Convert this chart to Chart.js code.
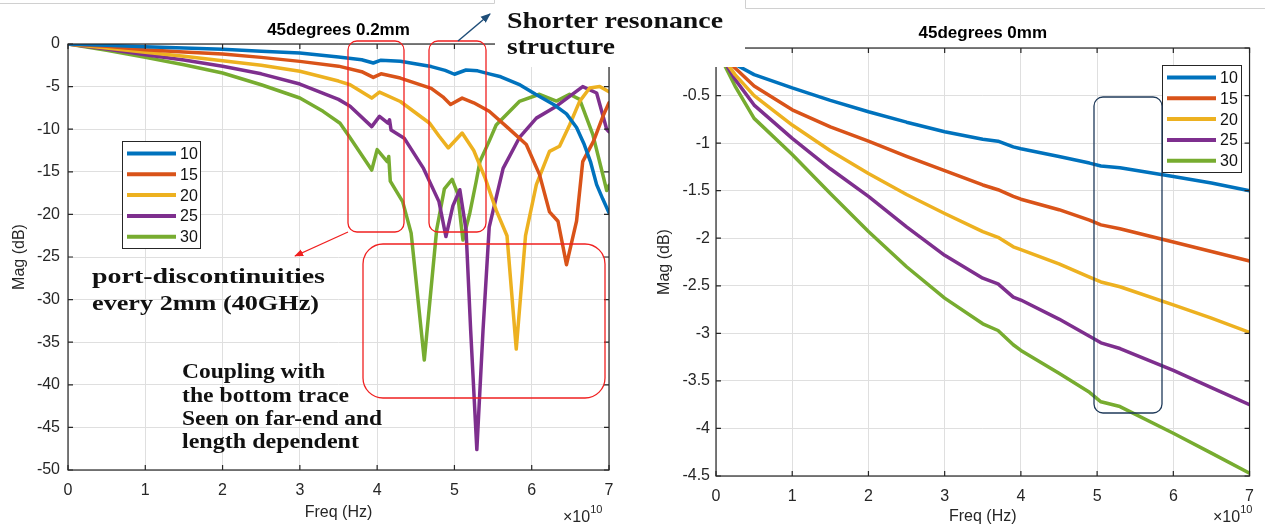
<!DOCTYPE html>
<html>
<head>
<meta charset="utf-8">
<script src="https://cdn.jsdelivr.net/npm/chart.js@4"></script>
<style>
  html, body { margin: 0; padding: 0; background: #fff; }
  body { width: 1265px; height: 529px; position: relative; overflow: hidden; }
  .box { position: absolute; top: 0; height: 529px; }
  #leftBox { left: 0; width: 630px; }
  #rightBox { left: 630px; width: 635px; }
  #notes { position: absolute; left: 0; top: 0; pointer-events: none; }
</style>
</head>
<body>
<div class="box" id="leftBox"><canvas id="leftChart"></canvas></div>
<div class="box" id="rightBox"><canvas id="rightChart"></canvas></div>

<svg id="notes" width="1265" height="529" xmlns="http://www.w3.org/2000/svg">
  <defs>
    <marker id="headRed" viewBox="0 0 10 10" refX="9" refY="5" markerWidth="9" markerHeight="9" markerUnits="userSpaceOnUse" orient="auto">
      <path d="M0 1L10 5L0 9z" fill="#f02020"/>
    </marker>
    <marker id="headNavy" viewBox="0 0 10 10" refX="9" refY="5" markerWidth="10" markerHeight="10" markerUnits="userSpaceOnUse" orient="auto">
      <path d="M0 1L10 5L0 9z" fill="#1f4e79"/>
    </marker>
  </defs>
  <!-- pasted text box covering the plot corners -->
  <rect x="495" y="0" width="250" height="67" fill="#fff"/>
  <path d="M0 3.5H494.5V0" stroke="#d0d0d0" fill="none"/>
  <path d="M745.5 0V8.5H1265" stroke="#d0d0d0" fill="none"/>

  <rect x="348" y="41" width="56" height="191" rx="9" fill="none" stroke="#f02020" stroke-width="1.3"/>
  <rect x="429" y="41" width="57" height="191" rx="9" fill="none" stroke="#f02020" stroke-width="1.3"/>
  <rect x="363" y="244" width="242" height="154" rx="20" fill="none" stroke="#f02020" stroke-width="1.3"/>
  <line x1="348" y1="232" x2="295" y2="256" stroke="#f02020" stroke-width="1.3" marker-end="url(#headRed)"/>
  <line x1="458" y1="41" x2="490" y2="14" stroke="#1f4e79" stroke-width="1.5" marker-end="url(#headNavy)"/>
  <rect x="1094" y="97" width="68" height="316" rx="9" fill="none" stroke="#1f3a5a" stroke-width="1.3"/>

  <g font-family="'Liberation Serif', serif" font-weight="bold" fill="#111">
    <text x="507" y="28" font-size="23" textLength="216" lengthAdjust="spacingAndGlyphs">Shorter resonance</text>
    <text x="507" y="54" font-size="23" textLength="108" lengthAdjust="spacingAndGlyphs">structure</text>
    <text x="92" y="283" font-size="21" textLength="233" lengthAdjust="spacingAndGlyphs">port-discontinuities</text>
    <text x="92" y="310" font-size="21" textLength="227" lengthAdjust="spacingAndGlyphs">every 2mm (40GHz)</text>
    <text x="182" y="378" font-size="20" textLength="143" lengthAdjust="spacingAndGlyphs">Coupling with</text>
    <text x="182" y="402" font-size="20" textLength="167" lengthAdjust="spacingAndGlyphs">the bottom trace</text>
    <text x="182" y="425" font-size="20" textLength="200" lengthAdjust="spacingAndGlyphs">Seen on far-end and</text>
    <text x="182" y="448" font-size="20" textLength="177" lengthAdjust="spacingAndGlyphs">length dependent</text>
  </g>
  <g font-family="'Liberation Sans', Arial, sans-serif" fill="#262626">
    <text x="563" y="522" font-size="16">×10<tspan dy="-9" font-size="11">10</tspan></text>
    <text x="1213" y="522" font-size="16">×10<tspan dy="-9" font-size="11">10</tspan></text>
  </g>
</svg>

<script>
// series names and colours (MATLAB default order)
const SERIES_LABELS = ['10', '15', '20', '25', '30'];
const COLORS = ['#0072BD', '#D95319', '#EDB120', '#7E2F8E', '#77AC30'];

// tick values
const X_TICKS = [0, 1, 2, 3, 4, 5, 6, 7];
const Y_TICKS_LEFT = [-50, -45, -40, -35, -30, -25, -20, -15, -10, -5, 0];
const Y_TICKS_RIGHT = [-4.5, -4, -3.5, -3, -2.5, -2, -1.5, -1, -0.5, 0];

// left plot: 45degrees 0.2mm, [freq (x1e10 Hz), mag (dB)]
const L10 = [[0,0],[0.5,-0.16],[1,-0.32],[1.5,-0.48],[2,-0.62],[2.5,-0.84],[3,-1.06],[3.5,-1.52],[3.8,-1.85],[3.95,-2.23],[4.05,-1.9],[4.3,-2.02],[4.7,-2.65],[4.88,-3.1],[5,-3.55],[5.15,-3.05],[5.3,-3.15],[5.45,-3.5],[5.6,-3.85],[5.85,-4.8],[6.05,-5.9],[6.3,-7.2],[6.45,-8.2],[6.58,-9.8],[6.68,-11.8],[6.76,-13.8],[6.84,-16.5],[6.92,-18.2],[7,-19.8]];
const L15 = [[0,0],[0.5,-0.27],[1,-0.67],[1.5,-0.94],[2,-1.17],[2.5,-1.57],[3,-2.04],[3.5,-2.6],[3.8,-3.25],[3.95,-3.92],[4.05,-3.5],[4.3,-4],[4.7,-5.2],[4.85,-6.2],[4.95,-7.1],[5.1,-6.35],[5.25,-6.9],[5.45,-7.9],[5.7,-9.9],[5.93,-11.8],[6.1,-15.3],[6.23,-19.7],[6.34,-20.8],[6.45,-25.9],[6.58,-20.8],[6.66,-13.8],[6.8,-11.4],[6.93,-8.3],[7,-6.9]];
const L20 = [[0,0],[0.5,-0.47],[1,-0.98],[1.5,-1.45],[2,-1.96],[2.5,-2.5],[3,-3.2],[3.5,-4.35],[3.65,-4.78],[3.93,-6.35],[4.03,-5.64],[4.3,-6.75],[4.68,-9.3],[4.8,-10.8],[4.92,-12.2],[5.1,-10.45],[5.25,-12.5],[5.4,-15.8],[5.54,-19.5],[5.68,-22.5],[5.8,-35.8],[5.92,-22.5],[6.06,-16.5],[6.23,-12.6],[6.36,-12],[6.49,-9.5],[6.62,-6.74],[6.75,-5.17],[6.88,-4.98],[7,-5.6]];
const L25 = [[0,0],[0.5,-0.59],[1,-1.25],[1.5,-1.88],[2,-2.62],[2.5,-3.5],[3,-4.7],[3.5,-6.5],[3.65,-7.3],[3.93,-9.7],[4.03,-8.5],[4.14,-9.3],[4.16,-8.9],[4.18,-10.1],[4.35,-11.05],[4.6,-14.6],[4.8,-18.5],[4.89,-22.6],[4.98,-19],[5.07,-17.1],[5.15,-21.8],[5.21,-33.6],[5.29,-47.6],[5.37,-33.6],[5.45,-21.5],[5.63,-14.6],[5.84,-11],[6.06,-8.7],[6.32,-7.3],[6.49,-6.15],[6.66,-5],[6.84,-5.75],[6.97,-10],[7,-10.3]];
const L30 = [[0,0],[0.5,-0.74],[1,-1.57],[1.5,-2.43],[2,-3.4],[2.5,-4.78],[3,-6.34],[3.3,-7.9],[3.52,-9.3],[3.65,-11],[3.93,-14.8],[4,-12.4],[4.13,-13.8],[4.15,-13.2],[4.17,-16.1],[4.33,-18.5],[4.44,-22.2],[4.61,-37.1],[4.77,-21.8],[4.87,-17],[4.97,-15.9],[5.04,-17.5],[5.11,-23],[5.2,-19.8],[5.28,-16.2],[5.33,-13.8],[5.45,-11.4],[5.54,-9.5],[5.84,-6.74],[6.1,-5.9],[6.32,-6.7],[6.49,-5.9],[6.62,-6.5],[6.79,-10.6],[6.93,-15.7],[6.97,-17.2],[7,-16.6]];

// right plot: 45degrees 0mm, shared frequency grid (x1e10 Hz)
const R_FREQ = [0, 0.25, 0.5, 1, 1.5, 2, 2.5, 3, 3.5, 3.7, 3.9, 4, 4.5, 4.9, 5.05, 5.3, 6, 6.5, 7];
const R10 = [0, -0.17, -0.28, -0.42, -0.55, -0.67, -0.78, -0.88, -0.96, -0.98, -1.04, -1.06, -1.14, -1.21, -1.24, -1.26, -1.35, -1.42, -1.5];
const R15 = [0, -0.21, -0.4, -0.65, -0.83, -0.98, -1.14, -1.29, -1.44, -1.49, -1.56, -1.59, -1.7, -1.81, -1.86, -1.9, -2.04, -2.14, -2.24];
const R20 = [0, -0.28, -0.5, -0.81, -1.08, -1.32, -1.54, -1.74, -1.93, -1.99, -2.09, -2.12, -2.27, -2.41, -2.46, -2.51, -2.7, -2.84, -2.99];
const R25 = [0, -0.33, -0.6, -0.95, -1.27, -1.56, -1.88, -2.18, -2.42, -2.48, -2.62, -2.65, -2.85, -3.03, -3.1, -3.16, -3.39, -3.57, -3.75];
const R30 = [0, -0.4, -0.74, -1.12, -1.53, -1.93, -2.3, -2.63, -2.9, -2.97, -3.12, -3.18, -3.42, -3.62, -3.72, -3.77, -4.05, -4.26, -4.47];

const INK = '#262626';
const GRID = '#dfdfdf';
const FONT = "'Liberation Sans', Arial, sans-serif";

// axes box with inward ticks, title and an in-plot legend, MATLAB style
const matlabLook = {
  id: 'matlabLook',
  afterDatasetsDraw(chart) {
    const { ctx, chartArea: a, scales: { x, y } } = chart;
    ctx.save();
    ctx.strokeStyle = INK;
    ctx.lineWidth = 1.2;
    ctx.strokeRect(a.left, a.top, a.right - a.left, a.bottom - a.top);
    ctx.beginPath();
    x.ticks.forEach(t => {
      const px = x.getPixelForValue(t.value);
      ctx.moveTo(px, a.bottom); ctx.lineTo(px, a.bottom - 5);
      ctx.moveTo(px, a.top); ctx.lineTo(px, a.top + 5);
    });
    y.ticks.forEach(t => {
      const py = y.getPixelForValue(t.value);
      ctx.moveTo(a.left, py); ctx.lineTo(a.left + 5, py);
      ctx.moveTo(a.right, py); ctx.lineTo(a.right - 5, py);
    });
    ctx.stroke();
    ctx.restore();
  },
  afterDraw(chart, args, opt) {
    const { ctx, chartArea: a } = chart;
    ctx.save();
    ctx.fillStyle = '#000';
    ctx.font = 'bold 17px ' + FONT;
    ctx.textAlign = 'center';
    ctx.textBaseline = 'middle';
    ctx.fillText(opt.title, (a.left + a.right) / 2, opt.titleY);

    const lg = opt.legend;
    ctx.fillStyle = '#fff';
    ctx.fillRect(lg.x, lg.y, lg.w, lg.h);
    ctx.strokeStyle = INK;
    ctx.lineWidth = 1;
    ctx.strokeRect(lg.x + 0.5, lg.y + 0.5, lg.w, lg.h);
    ctx.font = '16px ' + FONT;
    ctx.textAlign = 'left';
    chart.data.datasets.forEach((ds, i) => {
      const cy = lg.y + 12.5 + i * 20.8;
      ctx.strokeStyle = ds.borderColor;
      ctx.lineWidth = 4;
      ctx.beginPath();
      ctx.moveTo(lg.x + 5, cy);
      ctx.lineTo(lg.x + 54, cy);
      ctx.stroke();
      ctx.fillStyle = '#111';
      ctx.fillText(ds.label, lg.x + 58, cy + 1);
    });
    ctx.restore();
  }
};

function makeChart(id, o) {
  return new Chart(document.getElementById(id), {
    type: 'line',
    data: {
      datasets: o.series.map((pts, i) => ({
        label: SERIES_LABELS[i],
        data: pts,
        borderColor: COLORS[i],
        borderWidth: 3.5,
        pointRadius: 0,
        tension: 0,
        fill: false,
        borderJoinStyle: 'round',
        borderCapStyle: 'round'
      }))
    },
    options: {
      responsive: true,
      maintainAspectRatio: false,
      animation: false,
      layout: { padding: o.padding },
      plugins: {
        legend: { display: false },
        tooltip: { enabled: false },
        matlabLook: { title: o.title, titleY: o.titleY, legend: o.legend }
      },
      scales: {
        x: {
          type: 'linear', min: 0, max: 7,
          afterBuildTicks: s => { s.ticks = X_TICKS.map(v => ({ value: v })); },
          afterFit: s => { s.height = o.xHeight; },
          grid: { color: GRID, drawTicks: false },
          border: { display: false },
          ticks: { padding: 11, color: INK, font: { family: FONT, size: 16 }, maxRotation: 0, autoSkip: false, callback: v => String(v) },
          title: { display: true, text: 'Freq (Hz)', color: INK, font: { family: FONT, size: 16 }, padding: { top: 0, bottom: o.xTitlePad } }
        },
        y: {
          type: 'linear', min: o.yTicks[0], max: o.yTicks[o.yTicks.length - 1],
          afterBuildTicks: s => { s.ticks = o.yTicks.map(v => ({ value: v })); },
          afterFit: s => { s.width = o.yWidth; },
          grid: { color: GRID, drawTicks: false },
          border: { display: false },
          ticks: { padding: o.yTickPad, color: INK, font: { family: FONT, size: 16 }, autoSkip: false, callback: v => String(v) },
          title: { display: true, text: 'Mag (dB)', color: INK, font: { family: FONT, size: 16 }, padding: { top: o.yTitlePad, bottom: 0 } }
        }
      }
    },
    plugins: [matlabLook]
  });
}

const toXY = pts => pts.map(p => ({ x: p[0], y: p[1] }));
const onGrid = vals => vals.map((v, i) => ({ x: R_FREQ[i], y: v }));

makeChart('leftChart', {
  series: [L10, L15, L20, L25, L30].map(toXY),
  yTicks: Y_TICKS_LEFT,
  padding: { top: 44, right: 21, left: 0, bottom: 0 },
  xHeight: 59, yWidth: 68, yTickPad: 8, xTitlePad: 6.4, yTitlePad: 10.4,
  title: '45degrees 0.2mm', titleY: 30,
  legend: { x: 122, y: 141, w: 78, h: 107 }
});

makeChart('rightChart', {
  series: [R10, R15, R20, R25, R30].map(onGrid),
  yTicks: Y_TICKS_RIGHT,
  padding: { top: 48, right: 9, left: 0, bottom: 0 },
  xHeight: 53, yWidth: 86, yTickPad: 6, xTitlePad: 2.4, yTitlePad: 25.4,
  title: '45degrees 0mm', titleY: 33,
  legend: { x: 532, y: 65, w: 79, h: 107 }
});
</script>
</body>
</html>
